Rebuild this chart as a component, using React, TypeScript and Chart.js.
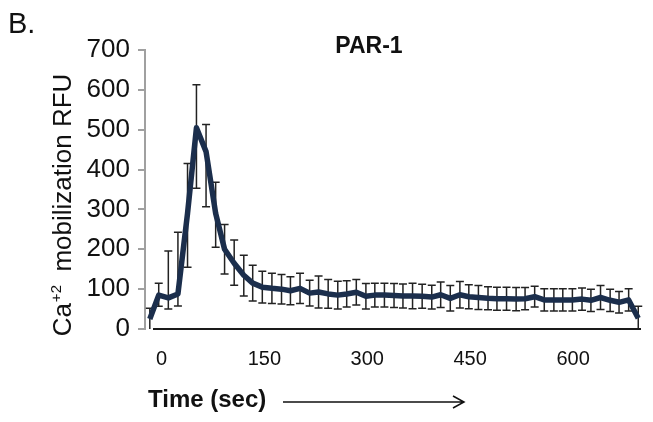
import React, { useEffect, useRef } from "react";
import { Chart, registerables } from "chart.js";

Chart.register(...registerables);

// ---- data ----
const times = [
  -17, -4, 10, 24, 38, 51, 65, 79, 92, 106, 120, 133, 147, 161, 175, 188, 202, 216,
  229, 243, 257, 270, 284, 298, 311, 325, 339, 352, 366, 380, 394, 407, 421, 435,
  448, 462, 476, 489, 503, 517, 530, 544, 558, 572, 585, 599, 613, 626, 640, 654,
  667, 681, 695,
];
const rfu = [
  25, 85, 78, 88, 290, 505, 445, 290, 200, 165, 135, 115, 105, 102, 100, 96, 102, 90,
  93, 88, 85, 88, 92, 82, 85, 85, 84, 83, 83, 82, 80, 86, 77, 86,
  81, 79, 77, 76, 76, 75, 76, 81, 73, 73, 73, 73, 75, 72, 79, 72,
  67, 73, 27,
];
const errPlus = [
  27, 30, 118, 155, 125, 108, 68, 78, 62, 58, 50, 45, 40, 38, 37, 35, 38, 32,
  40, 36, 35, 33, 32, 32, 30, 30, 30, 30, 32, 30, 30, 32, 32, 33,
  30, 30, 29, 29, 29, 29, 28, 26, 28, 28, 28, 28, 28, 28, 30, 28,
  27, 28, 30,
];
const errMinus = [
  25, 28, 28, 30, 135, 152, 138, 85, 62, 55, 52, 45, 40, 38, 37, 35, 38, 32,
  40, 36, 35, 33, 32, 32, 30, 30, 30, 30, 32, 30, 30, 32, 32, 33,
  30, 30, 29, 29, 29, 29, 28, 26, 28, 28, 28, 28, 28, 28, 30, 28,
  27, 28, 27,
];
const xTickValues = [0, 150, 300, 450, 600];
const yTickValues = [0, 100, 200, 300, 400, 500, 600, 700];

const panelLabel = "B.";
const chartTitle = "PAR-1";
const xTitle = "Time (sec)";
const yTitleMain = "Ca";
const yTitleSup = "+2";
const yTitleRest = "  mobilization RFU";

const FONT = "'Liberation Sans', Arial, Helvetica, sans-serif";
const LINE_COLOR = "#1b2e4c";
const TEXT_COLOR = "#111111";

const errorBarPlugin = {
  id: "errorBars",
  beforeDatasetsDraw(chart: any) {
    const { ctx, scales } = chart;
    const x = scales.x;
    const y = scales.y;
    ctx.save();
    ctx.strokeStyle = "#222222";
    ctx.lineWidth = 1.5;
    const cap = 4;
    times.forEach((t, i) => {
      const px = x.getPixelForValue(t);
      const top = y.getPixelForValue(rfu[i] + errPlus[i]);
      const lowVal = Math.max(0, rfu[i] - errMinus[i]);
      const bot = y.getPixelForValue(lowVal);
      ctx.beginPath();
      ctx.moveTo(px, top);
      ctx.lineTo(px, bot);
      ctx.moveTo(px - cap, top);
      ctx.lineTo(px + cap, top);
      if (lowVal > 0) {
        ctx.moveTo(px - cap, bot);
        ctx.lineTo(px + cap, bot);
      }
      ctx.stroke();
    });
    // x axis line
    ctx.strokeStyle = "#1a1a1a";
    ctx.lineWidth = 2;
    ctx.beginPath();
    ctx.moveTo(chart.chartArea.left + 8, chart.chartArea.bottom);
    ctx.lineTo(chart.chartArea.right, chart.chartArea.bottom);
    ctx.stroke();
    ctx.restore();
  },
};

const annotationPlugin = {
  id: "annotations",
  afterDraw(chart: any) {
    const { ctx, chartArea } = chart;
    ctx.save();
    ctx.fillStyle = TEXT_COLOR;

    // panel label
    ctx.font = `29px ${FONT}`;
    ctx.textAlign = "left";
    ctx.textBaseline = "alphabetic";
    ctx.fillText(panelLabel, 8, 33);

    // title
    ctx.font = `bold 23px ${FONT}`;
    ctx.textAlign = "center";
    ctx.textBaseline = "middle";
    ctx.fillText(chartTitle, chartArea.left + 224, 47);

    // x title
    ctx.font = `bold 24px ${FONT}`;
    ctx.textAlign = "left";
    ctx.textBaseline = "middle";
    ctx.fillText(xTitle, 148, 400);

    // arrow
    const ay = 402;
    const ax0 = 283;
    const ax1 = 464;
    ctx.strokeStyle = "#111";
    ctx.lineWidth = 1.5;
    ctx.beginPath();
    ctx.moveTo(ax0, ay);
    ctx.lineTo(ax1, ay);
    ctx.moveTo(ax1 - 11, ay - 6);
    ctx.lineTo(ax1, ay);
    ctx.lineTo(ax1 - 11, ay + 6);
    ctx.stroke();

    // y title (rotated, with superscript)
    ctx.translate(62, 205);
    ctx.rotate(-Math.PI / 2);
    ctx.textAlign = "left";
    ctx.textBaseline = "alphabetic";
    const mainFont = `26px ${FONT}`;
    const supFont = `15px ${FONT}`;
    ctx.font = mainFont;
    const w1 = ctx.measureText(yTitleMain).width;
    const w3 = ctx.measureText(yTitleRest).width;
    ctx.font = supFont;
    const w2 = ctx.measureText(yTitleSup).width;
    let cx = -(w1 + w2 + w3) / 2;
    const base = 9;
    ctx.font = mainFont;
    ctx.fillText(yTitleMain, cx, base);
    cx += w1;
    ctx.font = supFont;
    ctx.fillText(yTitleSup, cx + 1, base - 10);
    cx += w2;
    ctx.font = mainFont;
    ctx.fillText(yTitleRest, cx, base);
    ctx.restore();
  },
};

export default function App() {
  const ref = useRef<HTMLCanvasElement>(null);
  useEffect(() => {
    if (!ref.current) return;
    const chart = new Chart(ref.current, {
      type: "line",
      data: {
        datasets: [
          {
            data: times.map((t, i) => ({ x: t, y: rfu[i] })),
            borderColor: LINE_COLOR,
            backgroundColor: LINE_COLOR,
            borderWidth: 5.5,
            pointRadius: 0,
            tension: 0,
            borderJoinStyle: "round",
            borderCapStyle: "butt",
            fill: false,
          },
        ],
      },
      options: {
        animation: false,
        responsive: false,
        devicePixelRatio: 1,
        layout: { padding: { left: 0, top: 50, right: 12, bottom: 0 } },
        plugins: {
          legend: { display: false },
          tooltip: { enabled: false },
          title: { display: false },
        },
        scales: {
          x: {
            type: "linear",
            min: -24,
            max: 699,
            afterBuildTicks: (s: any) => {
              s.ticks = xTickValues.map((v) => ({ value: v }));
            },
            afterFit: (s: any) => {
              s.height = 93;
            },
            border: { display: false },
            grid: { display: false, drawTicks: false },
            ticks: {
              font: { family: FONT, size: 20 },
              color: TEXT_COLOR,
              padding: 18,
              maxRotation: 0,
              autoSkip: false,
            },
          },
          y: {
            min: 0,
            max: 700,
            afterBuildTicks: (s: any) => {
              s.ticks = yTickValues.map((v) => ({ value: v }));
            },
            afterFit: (s: any) => {
              s.width = 145;
            },
            border: { display: true, color: "#a0a0a0", width: 2 },
            grid: {
              display: true,
              drawOnChartArea: false,
              drawTicks: true,
              tickLength: 7,
              color: "#a0a0a0",
              lineWidth: 2,
            },
            ticks: {
              font: { family: FONT, size: 26 },
              color: TEXT_COLOR,
              padding: 8,
            },
          },
        },
      },
      plugins: [errorBarPlugin, annotationPlugin],
    } as any);
    return () => chart.destroy();
  }, []);
  return (
    <div style={{ position: "fixed", left: 0, top: 0, width: 653, height: 422, background: "#fff" }}>
      <canvas ref={ref} width={653} height={422} style={{ display: "block", width: 653, height: 422 }} />
    </div>
  );
}
